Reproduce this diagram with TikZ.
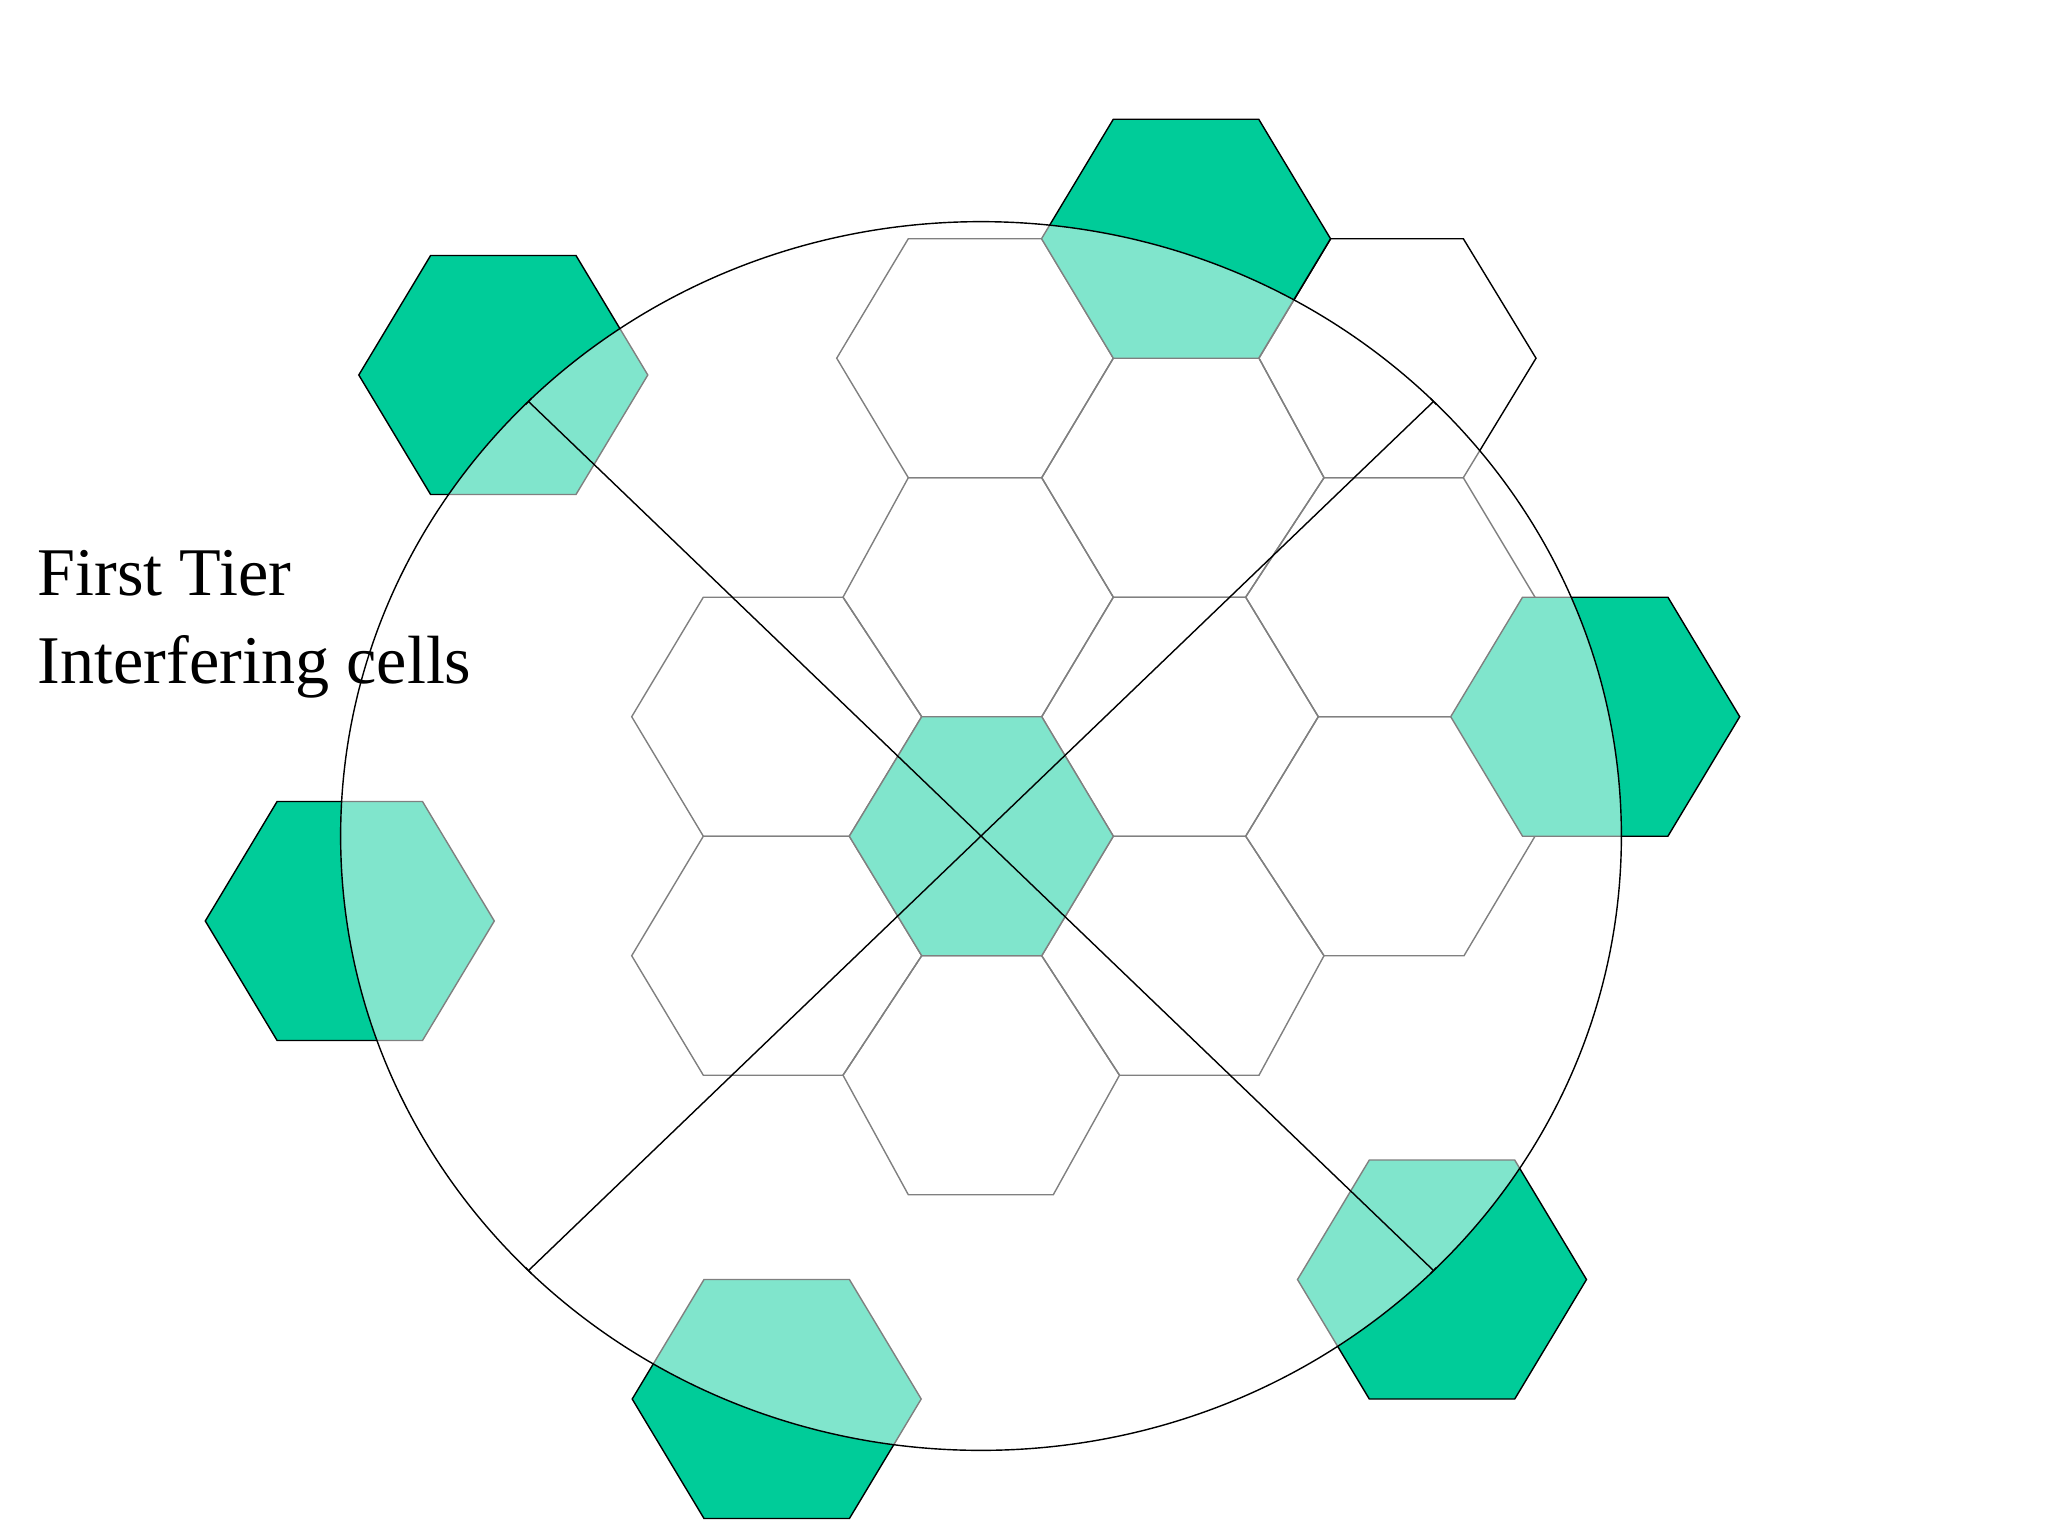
\documentclass[tikz,border=0pt]{standalone}
\usepackage{fontspec}
\setmainfont{Liberation Serif}
\usetikzlibrary{arrows.meta}

\definecolor{cellgreen}{HTML}{00CC99}
\tikzset{
    tiercell/.style={draw=black, fill=cellgreen},
    radius line/.style={draw=black, {Bar[width=2.5pt]}-{Bar[width=2.5pt]}},
    label text/.style={anchor=base west, inner sep=0pt, font=\fontsize{19.4pt}{25pt}\selectfont},
}

\begin{document}
\begin{tikzpicture}[x=0.01cm, y=-0.01cm]
    \useasboundingbox (0,0) rectangle (2048,1536);

    \coordinate (O) at (981,836);
    \coordinate (P1) at (528,401);
    \coordinate (P2) at (1434,401);
    \coordinate (P3) at (1434,1271);
    \coordinate (P4) at (528,1271);

    % cluster cells
    \draw (836.7,358.2) -- (908.3,238.7) -- (1041.7,238.7) -- (1113.3,358.2) -- (1041.7,477.7) -- (908.3,477.7) -- cycle;
    \draw (1259,358.2) -- (1330.7,238.7) -- (1463.3,238.7) -- (1536,358.2) -- (1463.3,477.7) -- (1324,477.7) -- cycle;
    \draw (1041.7,477.7) -- (1113.3,358.2) -- (1259,358.2) -- (1324,477.7) -- (1245.7,597.2) -- (1113.3,597.2) -- cycle;
    \draw (843,597.2) -- (908.3,477.7) -- (1041.7,477.7) -- (1113.3,597.2) -- (1041.7,716.7) -- (921.7,716.7) -- cycle;
    \draw (1245.7,597.2) -- (1324,477.7) -- (1463.3,477.7) -- (1535,597.2) -- (1457,716.7) -- (1318.3,716.7) -- cycle;
    \draw (1041.7,716.7) -- (1113.3,597.2) -- (1245.7,597.2) -- (1318.3,716.7) -- (1245.7,836.2) -- (1113.3,836.2) -- cycle;
    \draw (631.7,716.7) -- (703.3,597.2) -- (843,597.2) -- (921.7,716.7) -- (849.3,836.2) -- (703.3,836.2) -- cycle;
    \draw (1245.7,836.2) -- (1318.3,716.7) -- (1457,716.7) -- (1535,836.2) -- (1464,955.7) -- (1324,955.7) -- cycle;
    \draw (1041.7,955.7) -- (1113.3,836.2) -- (1245.7,836.2) -- (1324,955.7) -- (1259,1075.2) -- (1119.5,1075.2) -- cycle;
    \draw (631.7,955.7) -- (703.3,836.2) -- (849.3,836.2) -- (921.7,955.7) -- (843,1075.2) -- (703.3,1075.2) -- cycle;
    \draw (843,1075.2) -- (921.7,955.7) -- (1041.7,955.7) -- (1119.5,1075.2) -- (1053.3,1194.7) -- (908.3,1194.7) -- cycle;

    % centre cell
    \draw[tiercell] (849.3,836.2) -- (921.7,716.7) -- (1041.7,716.7) -- (1113.3,836.2)
        -- (1041.7,955.7) -- (921.7,955.7) -- cycle;

    % first tier co-channel cells
    \foreach \cx/\cy in {1186/238.7, 1595.2/716.7, 1442/1279.5,
        776.7/1399, 349.8/921, 503.3/375}
        \draw[tiercell] ({\cx-144.5},\cy) -- ({\cx-72.7},{\cy-119.5}) -- ({\cx+72.7},{\cy-119.5})
            -- ({\cx+144.5},\cy) -- ({\cx+72.7},{\cy+119.5}) -- ({\cx-72.7},{\cy+119.5}) -- cycle;

    \draw[fill=white, fill opacity=0.5] (O) ellipse [x radius=6.4cm, y radius=6.14cm];

    \draw[radius line] (P1) -- (P3);
    \draw[radius line] (P4) -- (P2);

    \node[label text] (tier1) at (37,595) {First Tier};
    \node[label text] (tier2) at (37,683.3) {Interfering cells};
\end{tikzpicture}
\end{document}
